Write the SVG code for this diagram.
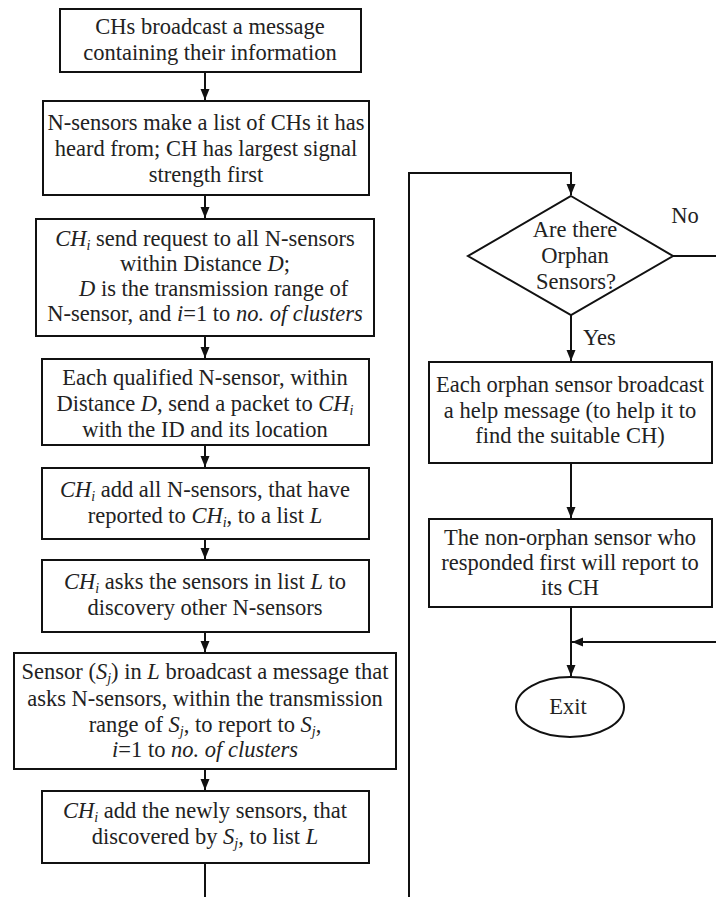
<svg xmlns="http://www.w3.org/2000/svg" width="716" height="897" viewBox="0 0 716 897">
<style>
.box{fill:#fff;stroke:#111;stroke-width:2}
.ln{fill:none;stroke:#111;stroke-width:2}
text{font-size:22.5px;fill:#222;text-anchor:middle}
.st{text-anchor:start}
.it{font-style:italic}
.sub{font-style:italic;font-size:14px}
</style>
<defs>
<marker id="ah" markerUnits="userSpaceOnUse" markerWidth="12" markerHeight="12" viewBox="0 0 12 12" refX="11" refY="6" orient="auto">
<path d="M0,1.5 L11,6 L0,10.5 Z" fill="#111"/>
</marker>
</defs>
<rect width="716" height="897" fill="#fff"/>
<g font-family="Liberation Serif">
<g id="connectors">
<path class="ln" d="M205,72 V100" marker-end="url(#ah)"/>
<path class="ln" d="M205,195 V218" marker-end="url(#ah)"/>
<path class="ln" d="M205,336 V358" marker-end="url(#ah)"/>
<path class="ln" d="M205,445 V467" marker-end="url(#ah)"/>
<path class="ln" d="M205,539 V559" marker-end="url(#ah)"/>
<path class="ln" d="M205,632 V652" marker-end="url(#ah)"/>
<path class="ln" d="M205,769 V790" marker-end="url(#ah)"/>
<path class="ln" d="M205,863 V897"/>
<path class="ln" d="M409,897 V173 H571 V195" marker-end="url(#ah)"/>
<path class="ln" d="M673,256 H716"/>
<path class="ln" d="M571,315 V361" marker-end="url(#ah)"/>
<path class="ln" d="M571,463 V518" marker-end="url(#ah)"/>
<path class="ln" d="M571,607 V676" marker-end="url(#ah)"/>
<path class="ln" d="M716,642 H572" marker-end="url(#ah)"/>
<text x="685" y="223">No</text>
<text x="583" y="345" class="st">Yes</text>
</g>
<g id="n1">
<rect class="box" x="60" y="9" width="301" height="63"/>
<text x="210" y="34">CHs broadcast a message</text>
<text x="210" y="60">containing their information</text>
</g>
<g id="n2">
<rect class="box" x="43" y="101" width="326" height="94"/>
<text x="206" y="130">N-sensors make a list of CHs it has</text>
<text x="206" y="156">heard from; CH has largest signal</text>
<text x="206" y="182">strength first</text>
</g>
<g id="n3">
<rect class="box" x="36" y="219" width="338" height="117"/>
<text x="205" y="246"><tspan class="it">CH</tspan><tspan class="sub" dy="4">i</tspan><tspan dy="-4"> send request to all N-sensors</tspan></text>
<text x="205" y="271">within Distance <tspan class="it">D</tspan>;</text>
<text x="79" y="296" class="st"><tspan class="it">D</tspan> is the transmission range of</text>
<text x="205" y="321">N-sensor, and <tspan class="it">i</tspan>=1 to <tspan class="it">no. of clusters</tspan></text>
</g>
<g id="n4">
<rect class="box" x="42" y="359" width="327" height="86"/>
<text x="205" y="385">Each qualified N-sensor, within</text>
<text x="205" y="411">Distance <tspan class="it">D</tspan>, send a packet to <tspan class="it">CH</tspan><tspan class="sub" dy="4">i</tspan></text>
<text x="205" y="437">with the ID and its location</text>
</g>
<g id="n5">
<rect class="box" x="42" y="468" width="327" height="71"/>
<text x="205" y="497"><tspan class="it">CH</tspan><tspan class="sub" dy="4">i</tspan><tspan dy="-4"> add all N-sensors, that have</tspan></text>
<text x="205" y="523">reported to <tspan class="it">CH</tspan><tspan class="sub" dy="4">i</tspan><tspan dy="-4">, to a list </tspan><tspan class="it">L</tspan></text>
</g>
<g id="n6">
<rect class="box" x="42" y="560" width="327" height="72"/>
<text x="205" y="589"><tspan class="it">CH</tspan><tspan class="sub" dy="4">i</tspan><tspan dy="-4"> asks the sensors in list </tspan><tspan class="it">L</tspan> to</text>
<text x="205" y="615">discovery other N-sensors</text>
</g>
<g id="n7">
<rect class="box" x="14" y="653" width="382" height="116"/>
<text x="205" y="679">Sensor (<tspan class="it">S</tspan><tspan class="sub" dy="4">j</tspan><tspan dy="-4">) in </tspan><tspan class="it">L</tspan> broadcast a message that</text>
<text x="205" y="706">asks N-sensors, within the transmission</text>
<text x="205" y="732">range of <tspan class="it">S</tspan><tspan class="sub" dy="4">j</tspan><tspan dy="-4">, to report to </tspan><tspan class="it">S</tspan><tspan class="sub" dy="4">j</tspan><tspan dy="-4">,</tspan></text>
<text x="205" y="757"><tspan class="it">i</tspan>=1 to <tspan class="it">no. of clusters</tspan></text>
</g>
<g id="n8">
<rect class="box" x="42" y="791" width="327" height="72"/>
<text x="205" y="818"><tspan class="it">CH</tspan><tspan class="sub" dy="4">i</tspan><tspan dy="-4"> add the newly sensors, that</tspan></text>
<text x="205" y="844">discovered by <tspan class="it">S</tspan><tspan class="sub" dy="4">j</tspan><tspan dy="-4">, to list </tspan><tspan class="it">L</tspan></text>
</g>
<g id="n9">
<polygon class="box" points="571,196 673,256 571,315 468,256"/>
<text x="575" y="237">Are there</text>
<text x="575" y="263">Orphan</text>
<text x="576" y="289">Sensors?</text>
</g>
<g id="n10">
<rect class="box" x="429" y="362" width="283" height="101"/>
<text x="570" y="392">Each orphan sensor broadcast</text>
<text x="570" y="418">a help message (to help it to</text>
<text x="570" y="443">find the suitable CH)</text>
</g>
<g id="n11">
<rect class="box" x="429" y="519" width="283" height="88"/>
<text x="570" y="545">The non-orphan sensor who</text>
<text x="570" y="570">responded first will report to</text>
<text x="570" y="595">its CH</text>
</g>
<g id="n12">
<ellipse class="box" cx="570" cy="707" rx="54" ry="30"/>
<text x="568" y="714">Exit</text>
</g>
</g>
</svg>
